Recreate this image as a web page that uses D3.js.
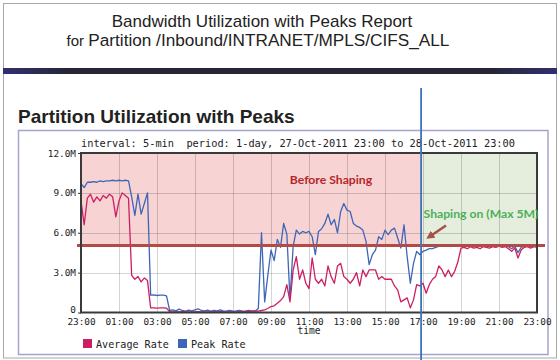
<!DOCTYPE html>
<html>
<head>
<meta charset="utf-8">
<script src="https://cdn.jsdelivr.net/npm/d3@7"></script>
<style>
  html, body { margin: 0; padding: 0; background: #fff; }
  svg { display: block; }
</style>
</head>
<body>
<svg id="chart" width="560" height="360"></svg>
<script>
// ---------- DATA (10-minute samples, 27-Oct-2011 23:00 -> 28-Oct-2011 23:00), values in Mbps ----------
const stepMinutes = 10;
const avgRate = [
  8.4, 6.6, 8.6, 8.9, 8.3, 8.7, 8.4, 8.8, 8.6, 8.9, 8.7, 7.2, 8.4, 9.0, 8.8, 8.6,
  2.8, 2.5, 2.7, 2.3, 2.6, 2.4,
  0.35, 0.35, 0.33, 0.35, 0.35, 0.33,
  0.05, 0.04, 0.05, 0.04, 0.06, 0.04, 0.05, 0.04, 0.05, 0.06, 0.04, 0.05, 0.04, 0.05,
  0.04, 0.05, 0.06, 0.04, 0.05, 0.04, 0.05, 0.04, 0.05, 0.06, 0.05, 0.08, 0.1, 0.12,
  0.1, 0.15, 0.2, 0.3, 0.45, 0.5, 0.7, 0.9, 1.2, 2.1, 0.8, 3.2, 4.2, 2.5, 3.2, 2.2,
  1.8, 4.1, 2.5, 2.2, 2.5, 2.0, 3.5, 2.7, 2.2, 3.5, 3.7, 2.7, 2.5, 2.2, 2.5, 3.0,
  2.0, 3.2, 2.7, 3.2, 3.2, 3.2, 2.5, 2.7, 2.5, 2.5, 2.5, 2.0, 1.7, 0.8, 0.95, 1.1,
  0.35, 0.95, 2.1, 2.0, 2.2, 1.45, 2.1, 2.5, 2.7, 3.5,
  3.2, 2.7, 3.2, 2.7, 3.1, 3.8, 4.85, 4.9, 4.8, 4.95, 4.85, 4.9, 4.8, 4.95, 4.9, 4.85,
  4.95, 4.9, 5.0, 4.9, 4.95, 4.8, 4.6, 4.85, 4.1, 4.7, 4.9, 4.95, 4.85, 4.95, 4.9
];
const peakRate = [
  9.7, 9.4, 9.8, 9.8, 9.85, 9.8, 9.9, 9.85, 9.9, 9.9, 9.95, 9.9, 9.95, 9.9, 9.95, 9.9,
  8.7, 7.3, 8.9, 7.4, 8.2, 9.0,
  1.3, 1.32, 1.28, 1.3, 1.3, 1.25,
  0.15, 0.2, 0.12, 0.25, 0.15, 0.1, 0.18, 0.12, 0.2, 0.28, 0.15, 0.12, 0.18, 0.1,
  0.15, 0.12, 0.2, 0.1, 0.12, 0.15, 0.1, 0.12, 0.15, 0.1, 0.12, 0.15, 0.1, 0.12,
  0.3, 6.0, 0.8, 2.8, 4.7, 3.9, 5.5, 4.9, 6.7, 5.9, 1.0, 5.0, 6.2, 5.9, 6.1, 6.0,
  6.1, 5.7, 4.35, 6.1, 6.3, 6.7, 7.4, 6.6, 7.0, 6.0, 7.6, 8.2, 7.7, 7.6, 6.7, 6.5,
  6.4, 6.2, 5.35, 3.6, 4.35, 4.7, 5.7, 5.5, 6.2, 5.85, 6.2, 6.35, 5.6, 4.85, 6.6, 4.2,
  2.2, 3.7, 4.6, 4.35, 4.6, 4.7, 4.8, 4.8, 4.9, 4.97,
  5.0, 5.0, 5.02, 5.0, 5.03, 5.0, 5.02, 5.0, 5.03, 5.0, 5.02, 5.0, 5.03, 5.0, 5.02, 5.0,
  5.03, 5.0, 5.02, 5.0, 5.0, 4.95, 4.8, 5.0, 4.5, 4.9, 5.0, 5.02, 5.0, 5.0, 5.02
];
const yTickValues = [0, 3, 6, 9, 12];
const yTickLabels = ["0", "3.0M", "6.0M", "9.0M", "12.0M"];
const xTickHours = [0, 2, 4, 6, 8, 10, 12, 14, 16, 18, 20, 22, 24];
const xTickLabels = ["23:00", "01:00", "03:00", "05:00", "07:00", "09:00", "11:00",
                     "13:00", "15:00", "17:00", "19:00", "21:00", "23:00"];
const seriesNames = ["Average Rate", "Peak Rate"];
const shapingLimit = 5.05;     // Mbps cap line
const shapingStartHour = 17.9; // hours after 23:00 (~16:54)

// ---------- LAYOUT ----------
const svg = d3.select("#chart");
const plot = { left: 81, right: 537, top: 153, bottom: 312.5 };
const x = d3.scaleLinear().domain([0, 24]).range([plot.left, plot.right]);
const y = d3.scaleLinear().domain([0, 12]).range([plot.bottom, plot.top]);
const colors = { avg: "#cc1f63", peak: "#3d66b8" };
const mono = "'DejaVu Sans Mono', 'Liberation Mono', monospace";
const sans = "'Liberation Sans', Arial, sans-serif";

const defs = svg.append("defs");
const grad = defs.append("linearGradient").attr("id", "bar").attr("x1", "0").attr("x2", "1");
grad.append("stop").attr("offset", "0").attr("stop-color", "#30306e");
grad.append("stop").attr("offset", "0.12").attr("stop-color", "#262636");
grad.append("stop").attr("offset", "0.88").attr("stop-color", "#262636");
grad.append("stop").attr("offset", "1").attr("stop-color", "#30306e");

// outer frame
svg.append("rect").attr("x", 3.5).attr("y", 3.5).attr("width", 553).attr("height", 354.5)
  .attr("fill", "#fff").attr("stroke", "#a8a8a8").attr("stroke-width", 1);
svg.append("rect").attr("x", 3).attr("y", 68).attr("width", 554).attr("height", 6).attr("fill", "url(#bar)");

// report titles
svg.append("text").attr("x", 262).attr("y", 27).attr("text-anchor", "middle")
  .attr("font-family", sans).attr("font-size", 17).attr("fill", "#222")
  .text("Bandwidth Utilization with Peaks Report");
const t2 = svg.append("text").attr("x", 258).attr("y", 45.5).attr("text-anchor", "middle")
  .attr("font-family", sans).attr("font-size", 17.2).attr("fill", "#222");
t2.append("tspan").attr("font-size", 15).text("for ");
t2.append("tspan").text("Partition /Inbound/INTRANET/MPLS/CIFS_ALL");

svg.append("text").attr("x", 18).attr("y", 122.5)
  .attr("font-family", sans).attr("font-size", 19).attr("font-weight", "bold").attr("fill", "#222")
  .text("Partition Utilization with Peaks");

// chart panel
svg.append("rect").attr("x", 18.5).attr("y", 130.5).attr("width", 529.5).attr("height", 224)
  .attr("fill", "#fff").attr("stroke", "#a4a4d0").attr("stroke-width", 1.5);

svg.append("text").attr("x", 81).attr("y", 146.5)
  .attr("font-family", mono).attr("font-size", 10.3).attr("fill", "#222")
  .attr("xml:space", "preserve").style("white-space", "pre")
  .text("interval: 5-min  period: 1-day, 27-Oct-2011 23:00 to 28-Oct-2011 23:00");

// shaded regions
const xs = x(shapingStartHour);
svg.append("rect").attr("x", plot.left).attr("y", plot.top)
  .attr("width", xs - plot.left).attr("height", y(shapingLimit) - plot.top).attr("fill", "#f8d3d3");
svg.append("rect").attr("x", xs).attr("y", plot.top)
  .attr("width", plot.right - xs).attr("height", y(shapingLimit) - plot.top).attr("fill", "#e5eddc");

// grid
const grid = svg.append("g").attr("stroke", "#000").attr("stroke-opacity", 0.17).attr("stroke-width", 1);
xTickHours.slice(1, -1).forEach(h => {
  grid.append("line").attr("x1", Math.round(x(h)) + 0.5).attr("x2", Math.round(x(h)) + 0.5)
    .attr("y1", plot.top).attr("y2", plot.bottom);
});
yTickValues.slice(1, -1).forEach(v => {
  grid.append("line").attr("x1", plot.left).attr("x2", plot.right)
    .attr("y1", Math.round(y(v)) + 0.5).attr("y2", Math.round(y(v)) + 0.5);
});

// series
const hourOf = i => i * stepMinutes / 60;
const line = d3.line().x((d, i) => x(hourOf(i))).y(d => y(d));
svg.append("path").datum(peakRate).attr("d", line)
  .attr("fill", "none").attr("stroke", colors.peak).attr("stroke-width", 1.3).attr("stroke-linejoin", "round");
svg.append("path").datum(avgRate).attr("d", line)
  .attr("fill", "none").attr("stroke", colors.avg).attr("stroke-width", 1.3).attr("stroke-linejoin", "round");

// axes
const yAxis = d3.axisLeft(y).tickValues(yTickValues).tickSize(3).tickPadding(2)
  .tickFormat((d, i) => yTickLabels[i]);
const gy = svg.append("g").attr("transform", `translate(${plot.left},0)`).call(yAxis);
const xAxis = d3.axisBottom(x).tickValues(xTickHours).tickSize(0).tickPadding(5)
  .tickFormat((d, i) => xTickLabels[i]);
const gx = svg.append("g").attr("transform", `translate(0,${plot.bottom})`).call(xAxis);
[gy, gx].forEach(g => {
  g.select(".domain").remove();
  g.selectAll("line").attr("stroke", "#333");
  g.selectAll("text").attr("font-family", mono).attr("font-size", 9.4).attr("fill", "#222");
});
gx.selectAll("text").attr("dy", "0.75em");
// the "0" label sits just above the axis so it clears the first time label
gy.selectAll(".tick").filter(d => d === 0).select("text").attr("dy", "-0.05em");

svg.append("text").attr("x", (plot.left + plot.right) / 2).attr("y", 334)
  .attr("text-anchor", "middle").attr("font-family", mono).attr("font-size", 9.6).attr("fill", "#222")
  .text("time");

// cap line
svg.append("line").attr("x1", plot.left - 4).attr("x2", 545)
  .attr("y1", y(shapingLimit)).attr("y2", y(shapingLimit))
  .attr("stroke", "#b24b46").attr("stroke-width", 3);

// plot frame
svg.append("rect").attr("x", plot.left).attr("y", plot.top)
  .attr("width", plot.right - plot.left).attr("height", plot.bottom - plot.top)
  .attr("fill", "none").attr("stroke", "#3a3a3a").attr("stroke-width", 2);

// legend
const legend = svg.append("g");
[[83, colors.avg, 0], [178, colors.peak, 1]].forEach(([lx, c, k]) => {
  legend.append("rect").attr("x", lx).attr("y", 339).attr("width", 9).attr("height", 9).attr("fill", c);
  legend.append("text").attr("x", lx + 13).attr("y", 347.5)
    .attr("font-family", mono).attr("font-size", 10.1).attr("fill", "#222").text(seriesNames[k]);
});

// annotations
svg.append("text").attr("x", 331).attr("y", 184).attr("text-anchor", "middle")
  .attr("font-family", "Lato, 'Open Sans', sans-serif").attr("font-weight", "bold").attr("font-size", 12.2)
  .attr("fill", "#b3262a").text("Before Shaping");
svg.append("text").attr("x", 481).attr("y", 218).attr("text-anchor", "middle")
  .attr("font-family", "Lato, 'Open Sans', sans-serif").attr("font-weight", "bold").attr("font-size", 12.2)
  .attr("fill", "#4cb05a").text("Shaping on (Max 5M)");

defs.append("marker").attr("id", "ah").attr("viewBox", "0 0 10 10").attr("refX", 6).attr("refY", 5)
  .attr("markerWidth", 3.2).attr("markerHeight", 3.2).attr("orient", "auto")
  .append("path").attr("d", "M0,0 L10,5 L0,10 z").attr("fill", "#a5524a");
svg.append("line").attr("x1", 446).attr("y1", 225.5).attr("x2", 429).attr("y2", 237)
  .attr("stroke", "#a5524a").attr("stroke-width", 2.6).attr("marker-end", "url(#ah)");

svg.append("line").attr("x1", xs).attr("x2", xs).attr("y1", 88).attr("y2", 360)
  .attr("stroke", "#3f74bb").attr("stroke-width", 1.8);
</script>
</body>
</html>
